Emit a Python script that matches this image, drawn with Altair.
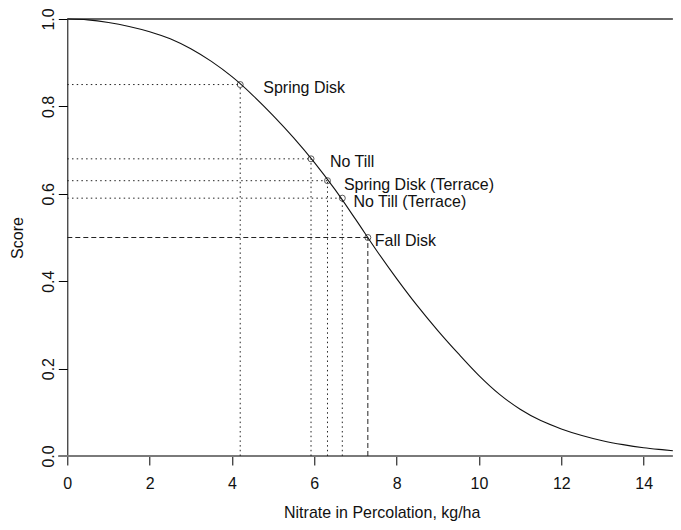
import altair as alt
import pandas as pd

# Score curve
curve_x = [0, 0.5, 1.0, 1.5, 2.0, 2.5, 3.0, 3.5, 4.0, 4.5, 5.0, 5.5, 6.0, 6.5, 7.0,
           7.5, 8.0, 8.5, 9.0, 9.5, 10.0, 10.5, 11.0, 11.5, 12.0, 12.5, 13.0, 13.5,
           14.0, 14.5, 14.71]
curve_y = [1.000, 0.998, 0.992, 0.983, 0.971, 0.955, 0.932, 0.903, 0.868, 0.826,
           0.779, 0.728, 0.672, 0.610, 0.542, 0.472, 0.406, 0.344, 0.287, 0.234,
           0.184, 0.141, 0.107, 0.081, 0.062, 0.047, 0.035, 0.026, 0.019, 0.014,
           0.012]

# Treatments
treatments = ["Spring Disk", "No Till", "Spring Disk (Terrace)", "No Till (Terrace)", "Fall Disk"]
treat_x = [4.2, 5.92, 6.32, 6.68, 7.3]
treat_y = [0.85, 0.68, 0.63, 0.59, 0.50]
label_x = [4.76, 6.38, 6.72, 6.95, 7.47]
label_y = [0.843, 0.672, 0.621, 0.582, 0.492]
line_style = ["dotted", "dotted", "dotted", "dotted", "dashed"]

x_ticks = [0, 2, 4, 6, 8, 10, 12, 14]
y_ticks = [0.0, 0.2, 0.4, 0.6, 0.8, 1.0]

X_MIN, X_MAX = 0, 14.71
FONT = "Liberation Sans"
TXT = "#111111"

curve_df = pd.DataFrame({"x": curve_x, "y": curve_y})
treat_df = pd.DataFrame({"name": treatments, "x": treat_x, "y": treat_y,
                         "lx": label_x, "ly": label_y, "style": line_style})
frame_df = pd.DataFrame({"x0": [-0.22, 0], "x1": [X_MAX, X_MAX], "y": [0, 1],
                         "kind": ["bottom", "top"]})

xscale = alt.Scale(domain=[X_MIN, X_MAX], nice=False, zero=False)
yscale = alt.Scale(domain=[0, 1], nice=False, zero=False)

PLOT_H = 437

xaxis = alt.Axis(values=x_ticks, domain=False, grid=False, tickSize=9, tickColor="black",
                 tickWidth=1, labelFontSize=16, labelFont=FONT, labelColor=TXT,
                 labelBaseline="alphabetic", labelPadding=24, labelFlush=False,
                 title="Nitrate in Percolation, kg/ha", titleFont=FONT, titleFontSize=16,
                 titleFontWeight="normal", titleColor=TXT, titleX=314.4, titleY=62,
                 titleBaseline="alphabetic", titleAlign="center", format="d")
yaxis = alt.Axis(values=y_ticks, domain=True, domainColor="black", domainWidth=1, grid=False,
                 tickSize=9, tickColor="black", tickWidth=1, labelFontSize=16, labelFont=FONT,
                 labelColor=TXT, labelAngle=270, labelAlign="center",
                 labelBaseline="alphabetic", labelPadding=5, labelFlush=False, format=".1f",
                 title="Score", titleFont=FONT, titleFontSize=16, titleFontWeight="normal",
                 titleColor=TXT, titleAngle=270, titleX=-44.6, titleY=PLOT_H / 2,
                 titleBaseline="alphabetic", titleAlign="center")

curve = alt.Chart(curve_df).mark_line(color="#111111", strokeWidth=1.1, interpolate="monotone").encode(
    x=alt.X("x:Q", scale=xscale, axis=xaxis),
    y=alt.Y("y:Q", scale=yscale, axis=yaxis),
)

frame = alt.Chart(frame_df).mark_rule().encode(
    x=alt.X("x0:Q", scale=xscale),
    x2="x1:Q",
    y=alt.Y("y:Q", scale=yscale),
    color=alt.Color("kind:N", scale=alt.Scale(domain=["bottom", "top"], range=["#7a7a7a", "#333333"]), legend=None),
    strokeWidth=alt.StrokeWidth("kind:N", scale=alt.Scale(domain=["bottom", "top"], range=[1.8, 1.3]), legend=None),
)

dash_scale = alt.Scale(domain=["dotted", "dashed"], range=[[1.5, 3.2], [5, 3]])

hlines = alt.Chart(treat_df).transform_calculate(zero="0").mark_rule(color="#222222", strokeWidth=1).encode(
    x=alt.X("zero:Q", scale=xscale),
    x2="x:Q",
    y=alt.Y("y:Q", scale=yscale),
    strokeDash=alt.StrokeDash("style:N", scale=dash_scale, legend=None),
)

vlines = alt.Chart(treat_df).transform_calculate(zero="0").mark_rule(color="#222222", strokeWidth=1).encode(
    x=alt.X("x:Q", scale=xscale),
    y=alt.Y("zero:Q", scale=yscale),
    y2="y:Q",
    strokeDash=alt.StrokeDash("style:N", scale=dash_scale, legend=None),
)

points = alt.Chart(treat_df).mark_point(shape="circle", filled=False, size=36, color="#111111",
                                        strokeWidth=1).encode(
    x=alt.X("x:Q", scale=xscale),
    y=alt.Y("y:Q", scale=yscale),
)

labels = alt.Chart(treat_df).mark_text(align="left", baseline="middle", fontSize=16, font=FONT,
                                       color=TXT).encode(
    x=alt.X("lx:Q", scale=xscale),
    y=alt.Y("ly:Q", scale=yscale),
    text="name:N",
)

chart = alt.layer(frame, hlines, vlines, curve, points, labels).properties(
    width=605.6, height=PLOT_H,
    autosize=alt.AutoSizeParams(type="none"),
    padding={"left": 59.3, "top": 11, "right": 0, "bottom": 66},
    background="white",
).configure_view(stroke=None)

chart.save("out.html", embed_options={"renderer": "svg", "actions": False})
